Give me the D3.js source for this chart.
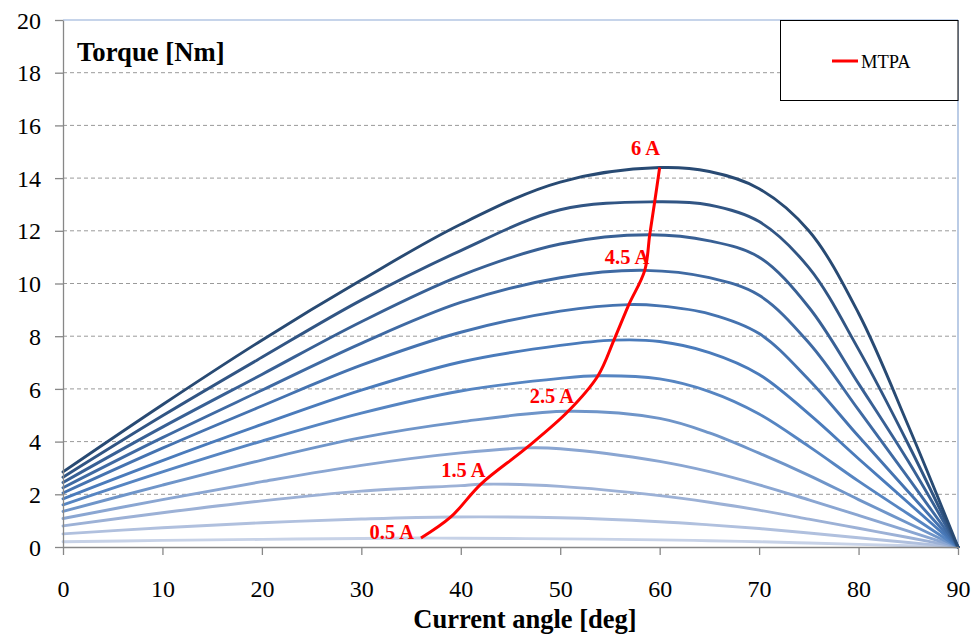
<!DOCTYPE html>
<html>
<head>
<meta charset="utf-8">
<script src="https://cdn.jsdelivr.net/npm/d3@7"></script>
<style>
  html, body { margin: 0; padding: 0; background: #ffffff; }
  svg { display: block; }
  svg text { font-family: "Times New Roman", "Liberation Serif", "DejaVu Serif", serif; }
</style>
</head>
<body>
<svg id="chart" width="979" height="638"></svg>
<script>
// Current angle samples [deg]
const angles = [0, 10, 20, 30, 40, 50, 60, 65, 70, 75, 80, 85, 90];

// Phase current of each torque curve [A]
const currents = [0.5, 1, 1.5, 2, 2.5, 3, 3.5, 4, 4.5, 5, 5.5, 6];

// Torque [Nm] at each sampled angle, one array per current
const torque0_5 = [0.20, 0.25, 0.29, 0.32, 0.33, 0.31, 0.27, 0.24, 0.20, 0.15, 0.10, 0.05, 0];
const torque1_0 = [0.50, 0.73, 0.92, 1.06, 1.14, 1.11, 0.96, 0.84, 0.70, 0.53, 0.35, 0.17, 0];
const torque1_5 = [0.80, 1.30, 1.75, 2.12, 2.33, 2.30, 1.95, 1.70, 1.40, 1.06, 0.71, 0.36, 0];
const torque2_0 = [1.08, 1.80, 2.48, 3.10, 3.57, 3.73, 3.25, 2.86, 2.36, 1.79, 1.20, 0.60, 0];
const torque2_5 = [1.35, 2.35, 3.30, 4.15, 4.75, 5.12, 4.88, 4.33, 3.56, 2.72, 1.80, 0.90, 0];
const torque3_0 = [1.60, 2.85, 4.02, 5.08, 5.92, 6.40, 6.38, 5.90, 5.05, 3.82, 2.50, 1.25, 0];
const torque3_5 = [1.83, 3.28, 4.65, 5.95, 7.02, 7.65, 7.80, 7.38, 6.55, 5.05, 3.35, 1.68, 0];
const torque4_0 = [2.05, 3.75, 5.35, 6.90, 8.15, 8.95, 9.15, 8.85, 8.10, 6.35, 4.20, 2.10, 0];
const torque4_5 = [2.25, 4.15, 5.95, 7.73, 9.28, 10.22, 10.48, 10.22, 9.55, 7.75, 5.20, 2.62, 0];
const torque5_0 = [2.45, 4.55, 6.55, 8.55, 10.30, 11.50, 11.83, 11.62, 11.00, 9.10, 6.20, 3.25, 0];
const torque5_5 = [2.65, 4.98, 7.20, 9.37, 11.25, 12.80, 13.10, 12.98, 12.35, 10.60, 7.50, 3.90, 0];
const torque6_0 = [2.85, 5.40, 7.85, 10.13, 12.25, 13.85, 14.40, 14.25, 13.60, 12.00, 8.87, 4.60, 0];
const torqueSeries = [torque0_5, torque1_0, torque1_5, torque2_0, torque2_5, torque3_0,
                      torque3_5, torque4_0, torque4_5, torque5_0, torque5_5, torque6_0];

// Maximum torque per ampere operating point of each current
const mtpaAngle  = [36, 39, 42, 46.6, 50.8, 53.8, 55.4, 56.9, 58.5, 59.0, 59.5, 60];
const mtpaTorque = [0.34, 1.14, 2.38, 3.76, 5.15, 6.5, 7.85, 9.2, 10.5, 11.85, 13.1, 14.4];

// Currents annotated along the MTPA trajectory
const labelCurrents = [0.5, 1.5, 2.5, 4.5, 6];

// Axis ticks
const xTicks = [0, 10, 20, 30, 40, 50, 60, 70, 80, 90];
const yTicks = [0, 2, 4, 6, 8, 10, 12, 14, 16, 18, 20];

// Line colours, light to dark with increasing current
const curveColors = ["#c7d2e7", "#b0c0de", "#9cb1d6", "#8aa6d2", "#6f95c9", "#5685c2",
                     "#4a7bbb", "#4573b0", "#3f6aa3", "#386095", "#315584", "#284a73"];

const serif = "'Times New Roman', 'Liberation Serif', 'DejaVu Serif', serif";
const svg = d3.select("#chart");
const plotLeft = 63, plotRight = 958, plotTop = 20, plotBottom = 547;

const x = d3.scaleLinear().domain([0, 90]).range([plotLeft, plotRight]);
const y = d3.scaleLinear().domain([0, 20]).range([plotBottom, plotTop]);

// Horizontal dashed gridlines
svg.append("g")
  .selectAll("line")
  .data(yTicks.filter(v => v > 0 && v < 20))
  .join("line")
  .attr("x1", plotLeft).attr("x2", plotRight)
  .attr("y1", d => y(d)).attr("y2", d => y(d))
  .attr("stroke", "#9a9a9a")
  .attr("stroke-width", 1)
  .attr("stroke-dasharray", "4,3");

// Plot area frame: top and right edges
svg.append("line").attr("x1", plotLeft).attr("x2", plotRight).attr("y1", plotTop).attr("y2", plotTop)
  .attr("stroke", "#8eaad6").attr("stroke-width", 1.2);
svg.append("line").attr("x1", plotRight).attr("x2", plotRight).attr("y1", plotTop).attr("y2", plotBottom)
  .attr("stroke", "#8eaad6").attr("stroke-width", 1.2);

// Torque curves
const line = d3.line()
  .x(d => x(d[0]))
  .y(d => y(d[1]))
  .curve(d3.curveCatmullRom.alpha(0.5));

function curvePoints(i) {
  const pts = angles.map((a, k) => [a, torqueSeries[i][k]])
    .filter(p => Math.abs(p[0] - mtpaAngle[i]) > 1.5);
  pts.push([mtpaAngle[i], mtpaTorque[i]]);
  return pts.sort((a, b) => a[0] - b[0]);
}

svg.append("g")
  .selectAll("path")
  .data(currents.map((c, i) => ({ current: c, points: curvePoints(i), color: curveColors[i] })))
  .join("path")
  .attr("d", d => line(d.points))
  .attr("fill", "none")
  .attr("stroke", d => d.color)
  .attr("stroke-width", 2.9)
  .attr("stroke-linecap", "round");

// Axes
const xAxis = svg.append("g")
  .attr("transform", `translate(0,${plotBottom})`)
  .call(d3.axisBottom(x).tickValues(xTicks).tickSize(8).tickSizeOuter(0).tickPadding(24));
const yAxis = svg.append("g")
  .attr("transform", `translate(${plotLeft},0)`)
  .call(d3.axisLeft(y).tickValues(yTicks).tickSize(8).tickSizeOuter(0).tickPadding(14));

[xAxis, yAxis].forEach(g => {
  g.attr("font-family", serif).attr("font-size", 24);
  g.select(".domain").attr("stroke", "#878787").attr("stroke-width", 1.3);
  g.selectAll(".tick line").attr("stroke", "#878787").attr("stroke-width", 1.3);
  g.selectAll(".tick text").attr("fill", "#000");
});
yAxis.selectAll(".tick text").attr("dy", "0.34em");
xAxis.selectAll(".tick text").attr("dy", "0.75em");

// MTPA trajectory
const mtpaLine = d3.line()
  .x(d => x(d[0]))
  .y(d => y(d[1]))
  .curve(d3.curveCatmullRom.alpha(0.5));

svg.append("path")
  .attr("d", mtpaLine(mtpaAngle.map((a, i) => [a, mtpaTorque[i]])))
  .attr("fill", "none")
  .attr("stroke", "#ff0000")
  .attr("stroke-width", 3);

// Current annotations next to the MTPA points
const labelOffsets = { 0.5: [-7, 1], 1.5: [5, -7], 2.5: [6, -8.5], 4.5: [4.5, -6], 6: [0.5, -13] };
svg.append("g")
  .attr("font-family", serif)
  .selectAll("text")
  .data(labelCurrents)
  .join("text")
  .attr("x", c => x(mtpaAngle[currents.indexOf(c)]) + labelOffsets[c][0])
  .attr("y", c => y(mtpaTorque[currents.indexOf(c)]) + labelOffsets[c][1])
  .attr("text-anchor", "end")
  .attr("fill", "#ff0000")
  .attr("font-weight", "bold")
  .attr("font-size", "20.5px")
  .text(c => `${c} A`);

// Axis titles
svg.append("text")
  .attr("x", 77).attr("y", 61)
  .attr("font-family", serif)
  .attr("font-weight", "bold").attr("font-size", "26.7px")
  .attr("fill", "#000")
  .text("Torque [Nm]");
svg.append("text")
  .attr("x", 525).attr("y", 628)
  .attr("text-anchor", "middle")
  .attr("font-family", serif)
  .attr("font-weight", "bold").attr("font-size", "26.5px")
  .attr("fill", "#000")
  .text("Current angle [deg]");

// Legend
const legend = svg.append("g");
legend.append("rect")
  .attr("x", 780.5).attr("y", 20.5).attr("width", 177.5).attr("height", 80)
  .attr("fill", "#ffffff").attr("stroke", "#000").attr("stroke-width", 1);
legend.append("line")
  .attr("x1", 832).attr("x2", 858).attr("y1", 61).attr("y2", 61)
  .attr("stroke", "#ff0000").attr("stroke-width", 3);
legend.append("text")
  .attr("x", 861).attr("y", 68)
  .attr("font-family", serif)
  .attr("font-size", "18.5px").attr("fill", "#000")
  .text("MTPA");
</script>
</body>
</html>
